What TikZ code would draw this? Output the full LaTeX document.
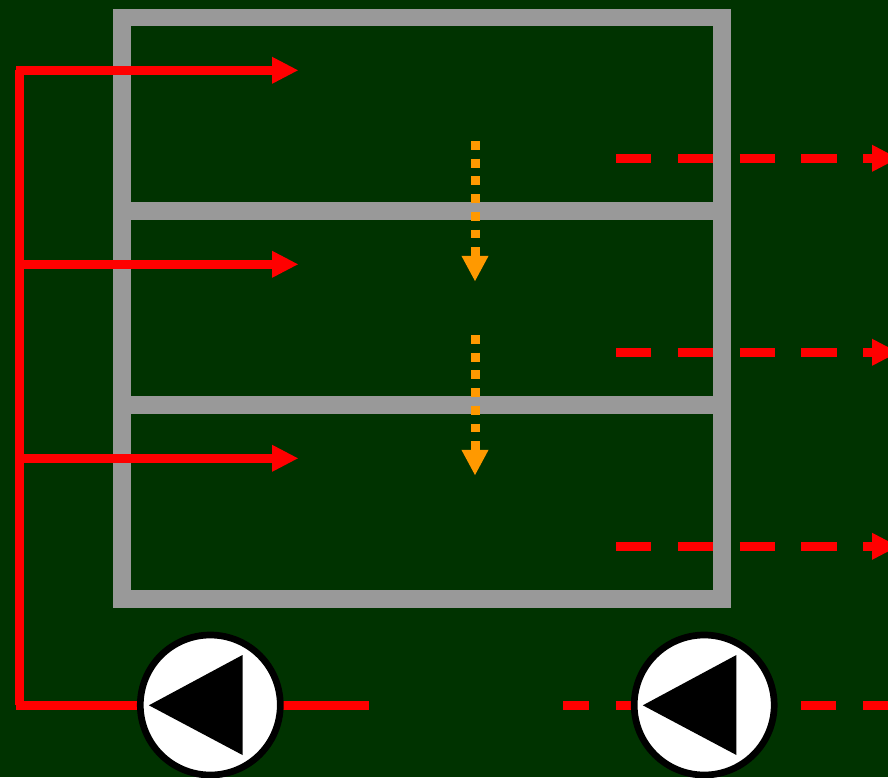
\documentclass[tikz,border=0pt]{standalone}
\usetikzlibrary{arrows.meta}

\begin{document}
\begin{tikzpicture}[x=1pt, y=-1pt,
  wall/.style={draw=wallgray, line width=17.7pt},
  feed/.style={draw=red, line width=9pt},
  bleed/.style={feed, dash pattern=on 35.3pt off 26.5pt},
  drip/.style={draw=dripamber, line width=9pt, dash pattern=on 8.85pt off 8.85pt,
    -{Triangle[length=25.7pt, width=25pt]}},
  pump/.style={circle, draw=black, fill=white, line width=6.7pt, inner sep=0pt, minimum size=140pt},
]
  \definecolor{wallgray}{HTML}{999999}
  \definecolor{dripamber}{HTML}{FF9900}
  \fill[fill={rgb,255:red,0;green,51;blue,0}] (0,0) rectangle (888,777);
  \clip (0,0) rectangle (888,777);
  % three stacked rooms
  \foreach \y in {17.4,211.3,405.2}
    \draw[wall] (122,\y) rectangle ++(599.8,193.9);
  % supply riser and its branches
  \coordinate (riser) at (19.5,70.3);
  \coordinate (riserbot) at (19.5,705.3);
  \coordinate (pipeL) at (16,705.3);
  \coordinate (pipeR) at (369,705.3);
  \draw[feed] (riser) -- (riserbot);
  \foreach \y in {70.3,264.3,458.3}
    \draw[feed, -{Triangle[length=26.5pt, width=25pt]}] (16,\y) -- (298.5,\y);
  % return branches
  \foreach \y in {158.3,352.3,546.3}
    \draw[bleed, -{Triangle[length=26.5pt, width=25pt]}] (616,\y) -- (898.5,\y);
  % flow through the floors
  \foreach \y in {141,335}
    \draw[drip] (475,\y) -- (475,\y+140.6);
  % pipes under the pumps
  \coordinate (retL) at (563,705.3);
  \coordinate (retR) at (888,705.3);
  \draw[feed] (pipeL) -- (pipeR);
  \draw[feed, dash pattern=on 35.3pt off 26.5pt, dash phase=9.2pt] (retL) -- (retR);
  % pumps
  \node[pump] (pumpA) at (210.3,705) {};
  \node[pump] (pumpB) at (704.2,705) {};
  \foreach \pt in {pumpA,pumpB}
    \fill[black] (\pt) ++(-61.4,0.3) -- ++(93.6,-50.3) -- ++(0,100) -- cycle;
\end{tikzpicture}
\end{document}
